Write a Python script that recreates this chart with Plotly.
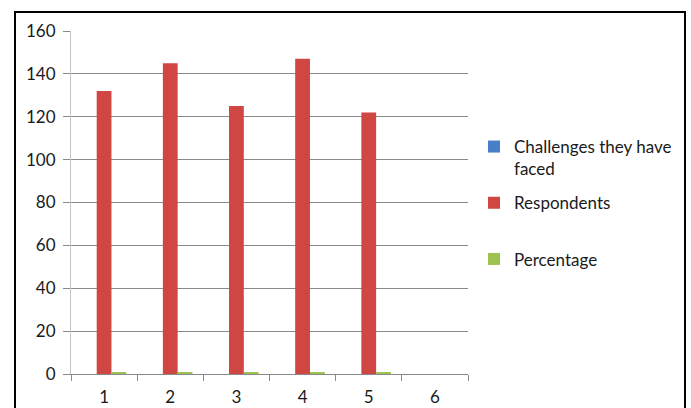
import plotly.graph_objects as go

# Survey data: six categories, three series
categories = ["1", "2", "3", "4", "5", "6"]
challenges = [0, 0, 0, 0, 0, None]
respondents = [132, 145, 125, 147, 122, None]
percentage = [0.5, 0.54, 0.5, 0.55, 0.5, None]

series_names = ["Challenges they have<br>faced", "Respondents<br>\u00a0", "Percentage<br>\u00a0"]
series_colors = ["#4A7EC6", "#CF4642", "#9DC24F"]

FONT = "Lato"
FS = 17
TEXT = "#1a1a1a"
W, H = 691, 408
ML, MR, MT, MB = 71, 223, 31, 34
PW, PH = W - ML - MR, H - MT - MB

fig = go.Figure()
for name, vals, col in zip(series_names, [challenges, respondents, percentage], series_colors):
    fig.add_trace(go.Bar(
        x=categories, y=vals, name=name,
        marker=dict(color=col, line=dict(width=0)),
        legendgroup=name,
    ))

# convert pixel positions to paper units
def px_x(px):
    return (px - ML) / PW

def px_y(py):
    return (H - MB - py) / PH

# outer chart frame
fig.add_shape(type="rect", xref="paper", yref="paper",
              x0=px_x(15), x1=px_x(685), y0=px_y(12), y1=px_y(420),
              line=dict(color="black", width=2), fillcolor="rgba(0,0,0,0)",
              layer="above")

fig.update_layout(
    width=W, height=H,
    margin=dict(l=ML, r=MR, t=MT, b=MB, pad=0, autoexpand=False),
    paper_bgcolor="white", plot_bgcolor="white",
    barmode="group", bargap=0.33, bargroupgap=0,
    font=dict(family=FONT, size=FS, color=TEXT),
    showlegend=True,
    legend=dict(
        x=px_x(474), y=px_y(129), xanchor="left", yanchor="top",
        valign="top", traceorder="grouped", tracegroupgap=9,
        font=dict(family=FONT, size=FS, color=TEXT),
        bgcolor="rgba(0,0,0,0)", borderwidth=0,
    ),
    xaxis=dict(
        type="category", tickson="boundaries", automargin=False,
        showline=True, linecolor="#8a8a8a", linewidth=1,
        ticks="outside", ticklen=6, tickcolor="#8a8a8a",
        showgrid=False, zeroline=False,
        tickfont=dict(family=FONT, size=FS, color=TEXT),
        ticklabelstandoff=8,
    ),
    yaxis=dict(
        range=[0, 160], dtick=20, tick0=0, automargin=False,
        showline=True, linecolor="#c4c4c4", linewidth=1,
        ticks="outside", ticklen=7, tickcolor="#8a8a8a",
        showgrid=True, gridcolor="#8a8a8a", gridwidth=1,
        zeroline=False,
        tickfont=dict(family=FONT, size=FS, color=TEXT),
        ticklabelstandoff=4,
    ),
)

fig.write_html("out.html")
